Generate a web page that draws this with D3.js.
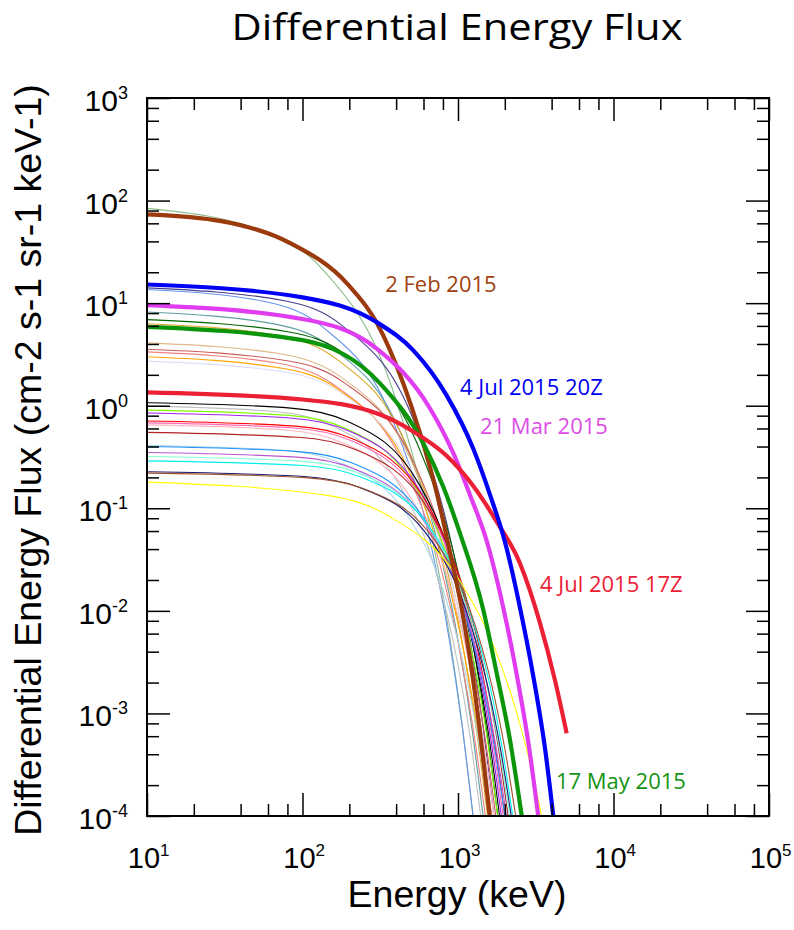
<!DOCTYPE html>
<html>
<head>
<meta charset="utf-8">
<script src="https://cdn.jsdelivr.net/npm/d3@7"></script>
<style>
  body { margin: 0; background: #ffffff; }
  svg { display: block; }
</style>
</head>
<body>
<svg id="chart" width="794" height="930"></svg>
<script>
// ---- axis ranges and tick values ----
const energyDomain = [10, 1e5];
const fluxDomain = [1e-4, 1e3];
const xDecades = [10, 100, 1000, 10000, 100000];
const yDecades = [1e-4, 1e-3, 1e-2, 1e-1, 1, 10, 100, 1000];
const minorSteps = [2, 4, 6, 8];

// ---- highlighted events: [energy keV, flux] ----
const feb2 = [[10, 73.3], [30, 63], [84, 38.2], [193, 15.6], [301, 6.4], [448, 1.6], [570, 0.54],
  [730, 0.141], [889, 0.037], [1057, 0.0105], [1300, 1.4e-3], [1600, 1e-4]];
const may17 = [[10, 5.87], [100, 4.36], [315, 1.65], [598, 0.43], [804, 0.162], [1030, 0.0569],
  [1455, 0.0102], [1774, 2.46e-3], [2160, 5.5e-4], [2570, 1e-4]];
const mar21 = [[10, 9.57], [100, 7.0], [300, 3.6], [661, 0.94], [933, 0.345], [1194, 0.135],
  [1530, 0.048], [1956, 0.0107], [2385, 2.4e-3], [2834, 5.2e-4], [3282, 1e-4]];
const jul4at17 = [[10, 1.35], [100, 1.15], [315, 0.82], [516, 0.56], [845, 0.325], [1254, 0.165],
  [1774, 0.074], [2505, 0.029], [3368, 7.6e-3], [4205, 2.1e-3], [5000, 6.4e-4]];
const jul4at20 = [[10, 15.2], [100, 11.4], [301, 6.5], [516, 3.46], [845, 1.26], [1254, 0.38],
  [1607, 0.135], [2005, 0.047], [2505, 0.0107], [3050, 2.3e-3], [3625, 4.6e-4], [4100, 1e-4]];

const highlightSpectra = [feb2, may17, mar21, jul4at17, jul4at20];
const highlightNames = ["2 Feb 2015", "17 May 2015", "21 Mar 2015", "4 Jul 2015 17Z", "4 Jul 2015 20Z"];
const highlightColors = ["#9b3a0c", "#0b950b", "#e03cf0", "#ec2035", "#0000f5"];
// label anchor in data coordinates [energy, flux]
const highlightLabelAt = [[340, 12.8], [4266, 1.83e-4], [1385, 0.528], [3365, 0.0152], [1030, 1.27]];
const highlightLabelColors = ["#a0420f", "#149414", "#dc4ee6", "#ec2035", "#0000f0"];

// ---- remaining events ----
const backgroundColors = [
  "#8fbc8f", "#483d8b", "#6495ed", "#5f9ea0", "#006400", "#daa520", "#deb887", "#cd5c5c",
  "#f08080", "#ffa500", "#dcdcf5", "#000000", "#c0c0c0", "#7cfc00", "#a020f0", "#ff0000",
  "#ff69b4", "#ffb6c1", "#b22222", "#add8e6", "#1e90ff", "#ba55d3", "#7fffd4", "#00eeee",
  "#191970", "#a0522d", "#ffff00"
];
const backgroundSpectra = [
  [[10, 84], [60, 48.6], [134, 21.5], [382, 1.40], [630, 0.0916], [878, 5.98e-3], [1064, 7.74e-4], [1250, 1e-4]],
  [[10, 14.1], [78, 10.5], [179, 6.08], [517, 0.728], [855, 0.0671], [1193, 5.37e-3], [1447, 7.5e-4], [1700, 1e-4]],
  [[10, 13.6], [60, 10.2], [134, 5.90], [382, 0.709], [630, 0.0659], [878, 5.31e-3], [1064, 7.46e-4], [1250, 1e-4]],
  [[10, 8.2], [68, 6.21], [154, 3.68], [442, 0.485], [730, 0.0499], [1018, 4.48e-3], [1234, 6.84e-4], [1450, 1e-4]],
  [[10, 6.9], [82, 5.24], [189, 3.14], [547, 0.426], [905, 0.0454], [1263, 4.23e-3], [1532, 6.65e-4], [1800, 1e-4]],
  [[10, 6.3], [72, 4.79], [164, 2.88], [472, 0.397], [780, 0.0432], [1088, 4.09e-3], [1319, 6.55e-4], [1550, 1e-4]],
  [[10, 4.1], [76, 3.16], [174, 1.93], [502, 0.288], [830, 0.0341], [1158, 3.55e-3], [1404, 6.08e-4], [1650, 1e-4]],
  [[10, 3.55], [80, 2.74], [184, 1.69], [532, 0.259], [880, 0.0315], [1228, 3.38e-3], [1489, 5.93e-4], [1750, 1e-4]],
  [[10, 3.35], [70, 2.59], [159, 1.60], [457, 0.248], [755, 0.0305], [1053, 3.31e-3], [1276, 5.87e-4], [1500, 1e-4]],
  [[10, 3.0], [74, 2.32], [169, 1.45], [487, 0.228], [805, 0.0287], [1123, 3.19e-3], [1362, 5.77e-4], [1600, 1e-4]],
  [[10, 2.72], [78, 2.12], [179, 1.32], [517, 0.212], [855, 0.0272], [1193, 3.09e-3], [1447, 5.68e-4], [1700, 1e-4]],
  [[10, 1.07], [84, 0.948], [194, 0.706], [562, 0.172], [930, 0.0282], [1298, 3.46e-3], [1574, 6.22e-4], [1850, 1e-4]],
  [[10, 0.99], [66, 0.879], [149, 0.657], [427, 0.162], [705, 0.0269], [983, 3.36e-3], [1192, 6.12e-4], [1400, 1e-4]],
  [[10, 0.905], [82, 0.805], [189, 0.603], [547, 0.150], [905, 0.0255], [1263, 3.25e-3], [1532, 6.02e-4], [1800, 1e-4]],
  [[10, 0.85], [86, 0.755], [199, 0.567], [577, 0.143], [955, 0.0245], [1333, 3.17e-3], [1617, 5.94e-4], [1900, 1e-4]],
  [[10, 0.71], [90, 0.632], [209, 0.477], [607, 0.124], [1005, 0.0220], [1403, 2.96e-3], [1702, 5.74e-4], [2000, 1e-4]],
  [[10, 0.68], [88, 0.606], [204, 0.458], [592, 0.1195], [980, 0.0214], [1368, 2.91e-3], [1659, 5.69e-4], [1950, 1e-4]],
  [[10, 0.65], [78, 0.580], [179, 0.439], [517, 0.115], [855, 0.0208], [1193, 2.86e-3], [1447, 5.64e-4], [1700, 1e-4]],
  [[10, 0.55], [94, 0.492], [219, 0.374], [637, 0.1008], [1055, 0.0188], [1473, 2.68e-3], [1787, 5.46e-4], [2100, 1e-4]],
  [[10, 0.41], [74, 0.368], [169, 0.283], [487, 0.0796], [805, 0.0157], [1123, 2.40e-3], [1362, 5.15e-4], [1600, 1e-4]],
  [[10, 0.40], [90, 0.359], [209, 0.276], [607, 0.0781], [1005, 0.0155], [1403, 2.38e-3], [1702, 5.12e-4], [2000, 1e-4]],
  [[10, 0.35], [92, 0.315], [214, 0.243], [622, 0.0701], [1030, 0.0143], [1438, 2.26e-3], [1744, 4.99e-4], [2050, 1e-4]],
  [[10, 0.32], [96, 0.288], [224, 0.223], [652, 0.0652], [1080, 0.0135], [1508, 2.18e-3], [1829, 4.90e-4], [2150, 1e-4]],
  [[10, 0.29], [100, 0.261], [234, 0.203], [682, 0.0603], [1130, 0.0127], [1578, 2.10e-3], [1914, 4.81e-4], [2250, 1e-4]],
  [[10, 0.227], [98, 0.205], [229, 0.161], [667, 0.0495], [1105, 0.0110], [1543, 1.91e-3], [1872, 4.58e-4], [2200, 1e-4]],
  [[10, 0.22], [104, 0.199], [244, 0.156], [712, 0.0483], [1180, 0.0108], [1648, 1.89e-3], [2000, 4.55e-4], [2350, 1e-4]],
  [[10, 0.18], [148, 0.133], [354, 0.0851], [1042, 0.0190], [1730, 4.24e-3], [2418, 9.47e-4], [2934, 3.08e-4], [3450, 1e-4]]
];

// ---- layout ----
const plot = { left: 147, right: 769, top: 98, bottom: 816 };
const axisFont = "'Liberation Sans', Arial, Helvetica, sans-serif";
const textFont = "'Open Sans', 'Noto Sans', sans-serif";

const svg = d3.select("#chart");
svg.append("rect").attr("width", 794).attr("height", 930).attr("fill", "#ffffff");

const x = d3.scaleLog().domain(energyDomain).range([plot.left, plot.right]);
const y = d3.scaleLog().domain(fluxDomain).range([plot.bottom, plot.top]);

svg.append("defs").append("clipPath").attr("id", "plot-clip")
  .append("rect")
  .attr("x", plot.left).attr("y", plot.top)
  .attr("width", plot.right - plot.left).attr("height", plot.bottom - plot.top);

// ---- spectra ----
const line = d3.line()
  .x(d => x(d[0]))
  .y(d => y(d[1]))
  .curve(d3.curveMonotoneX);

const curves = svg.append("g").attr("clip-path", "url(#plot-clip)").attr("fill", "none");

curves.selectAll("path.bg")
  .data(backgroundSpectra)
  .join("path")
  .attr("class", "bg")
  .attr("d", line)
  .attr("stroke", (d, i) => backgroundColors[i])
  .attr("stroke-width", 1.1);

curves.selectAll("path.hl")
  .data(highlightSpectra)
  .join("path")
  .attr("class", "hl")
  .attr("d", line)
  .attr("stroke", (d, i) => highlightColors[i])
  .attr("stroke-width", 4.2);

// ---- event labels ----
svg.append("g").selectAll("text")
  .data(highlightNames)
  .join("text")
  .attr("x", (d, i) => x(highlightLabelAt[i][0]))
  .attr("y", (d, i) => y(highlightLabelAt[i][1]))
  .attr("fill", (d, i) => highlightLabelColors[i])
  .attr("font-family", textFont)
  .attr("font-size", 22)
  .text(d => d);

// ---- ticks on all four sides ----
const xMinor = xDecades.slice(0, -1).flatMap(d => minorSteps.map(m => m * d));
const yMinor = yDecades.slice(0, -1).flatMap(d => minorSteps.map(m => m * d));

function styleTicks(g) {
  g.select(".domain").remove();
  g.selectAll(".tick line").attr("stroke", "#000").attr("stroke-width", 1.5);
  g.selectAll(".tick text").remove();
}

const majorLen = 23, minorLen = 12;
[[d3.axisBottom, plot.bottom], [d3.axisTop, plot.top]].forEach(([axisFn, pos]) => {
  svg.append("g").attr("transform", `translate(0,${pos})`)
    .call(axisFn(x).tickValues(xDecades).tickSize(-majorLen).tickSizeOuter(0)).call(styleTicks);
  svg.append("g").attr("transform", `translate(0,${pos})`)
    .call(axisFn(x).tickValues(xMinor).tickSize(-minorLen).tickSizeOuter(0)).call(styleTicks);
});
[[d3.axisLeft, plot.left], [d3.axisRight, plot.right]].forEach(([axisFn, pos]) => {
  svg.append("g").attr("transform", `translate(${pos},0)`)
    .call(axisFn(y).tickValues(yDecades).tickSize(-majorLen).tickSizeOuter(0)).call(styleTicks);
  svg.append("g").attr("transform", `translate(${pos},0)`)
    .call(axisFn(y).tickValues(yMinor).tickSize(-minorLen).tickSizeOuter(0)).call(styleTicks);
});

// frame
svg.append("rect")
  .attr("x", plot.left).attr("y", plot.top)
  .attr("width", plot.right - plot.left).attr("height", plot.bottom - plot.top)
  .attr("fill", "none").attr("stroke", "#000").attr("stroke-width", 2);

// ---- tick labels: 10 with superscript exponent ----
const exponent = v => String(Math.round(Math.log10(v)));

const xLabels = svg.append("g").attr("font-family", axisFont).attr("fill", "#000");
xDecades.forEach(v => {
  const cx = x(v);
  xLabels.append("text").attr("x", cx - 3).attr("y", plot.bottom + 52)
    .attr("text-anchor", "middle").attr("font-size", 29).text("10");
  xLabels.append("text").attr("x", cx + 13).attr("y", plot.bottom + 40)
    .attr("font-size", 17).text(exponent(v));
});

const yLabels = svg.append("g").attr("font-family", axisFont).attr("fill", "#000");
yDecades.forEach(v => {
  const t = yLabels.append("text")
    .attr("x", 128).attr("y", y(v) + 13)
    .attr("text-anchor", "end").attr("font-size", 30);
  t.append("tspan").text("10");
  t.append("tspan").attr("dy", -12).attr("font-size", 18).text(exponent(v));
});

// ---- titles ----
svg.append("text")
  .attr("x", 457).attr("y", 40)
  .attr("text-anchor", "middle")
  .attr("font-family", textFont)
  .attr("font-size", 37)
  .attr("textLength", 451)
  .attr("lengthAdjust", "spacingAndGlyphs")
  .attr("fill", "#000")
  .text("Differential Energy Flux");

svg.append("text")
  .attr("x", 457).attr("y", 907)
  .attr("text-anchor", "middle")
  .attr("font-family", axisFont)
  .attr("font-size", 37.5)
  .attr("fill", "#000")
  .text("Energy (keV)");

svg.append("text")
  .attr("transform", "translate(41,460) rotate(-90)")
  .attr("text-anchor", "middle")
  .attr("font-family", axisFont)
  .attr("font-size", 37.5)
  .attr("fill", "#000")
  .text("Differential Energy Flux (cm-2 s-1 sr-1 keV-1)");
</script>
</body>
</html>
